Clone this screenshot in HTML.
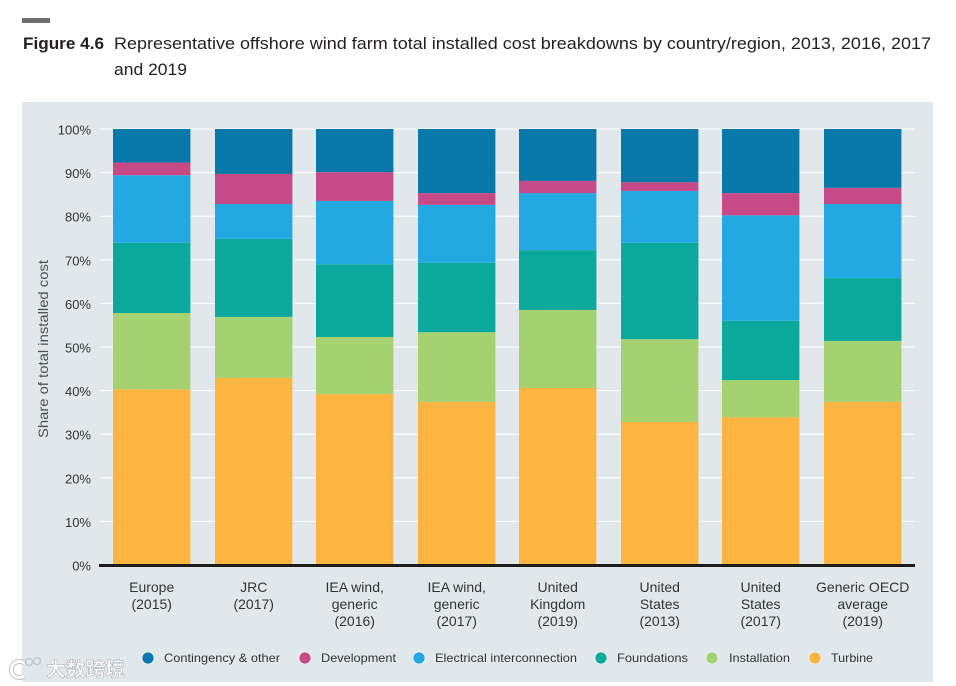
<!DOCTYPE html>
<html lang="en">
<head>
<meta charset="utf-8">
<title>Figure 4.6 Offshore wind farm cost breakdowns</title>
<style>
html,body{margin:0;padding:0;background:#fff;}
body{width:956px;height:686px;overflow:hidden;}
svg{display:block;font-family:"Liberation Sans","Noto Sans CJK SC",sans-serif;}
</style>
</head>
<body>
<svg id="chart" xmlns="http://www.w3.org/2000/svg" width="956" height="686" viewBox="0 0 956 686">
  <rect x="22" y="18" width="28" height="5" fill="#6d6e71"/>
  <text x="23" y="49" font-size="16.5" font-weight="700" fill="#231f20" textLength="81" lengthAdjust="spacingAndGlyphs">Figure 4.6</text>
  <text x="114" y="49" font-size="17" fill="#231f20" textLength="817" lengthAdjust="spacingAndGlyphs">Representative offshore wind farm total installed cost breakdowns by country/region, 2013, 2016, 2017</text>
  <text x="114" y="75" font-size="17" fill="#231f20" textLength="73" lengthAdjust="spacingAndGlyphs">and 2019</text>
  <rect x="22" y="102" width="911" height="580" fill="#e1e8ec"/>
  <text transform="translate(48 349) rotate(-90)" text-anchor="middle" font-size="14" fill="#4d4d4f" textLength="178" lengthAdjust="spacingAndGlyphs">Share of total installed cost</text>
  <g id="grid"></g>
  <g id="bars"></g>
  <rect x="99" y="564" width="816" height="3" fill="#1d1a18"/>
  <g id="yticks"></g>
  <g id="xlabels"></g>
  <g id="legend"></g>
  <g>
    <path d="M24 663 A8 8 0 1 0 24 676" fill="none" stroke="#bfc3c5" stroke-width="5"/>
    <path d="M24 663 A8 8 0 1 0 24 676" fill="none" stroke="#fff" stroke-width="3"/>
    <circle cx="29" cy="662" r="3.5" fill="none" stroke="#c4c8ca" stroke-width="1.5"/>
    <circle cx="37" cy="661" r="3.5" fill="none" stroke="#c4c8ca" stroke-width="1.5"/>
    <text x="46" y="676" font-size="19.5" font-weight="700" fill="#fff" stroke="#aeb3b6" stroke-width="0.6" textLength="79" lengthAdjust="spacingAndGlyphs">大数跨境</text>
  </g>
</svg>
<script>
const categories = [["Europe","(2015)"],["JRC","(2017)"],["IEA wind,","generic","(2016)"],["IEA wind,","generic","(2017)"],["United","Kingdom","(2019)"],["United","States","(2013)"],["United","States","(2017)"],["Generic OECD","average","(2019)"]];
const yTicks = [0,10,20,30,40,50,60,70,80,90,100];
const turbine = [40.3,42.9,39.2,37.4,40.6,32.8,33.9,37.4];
const installation = [17.5,14.0,13.1,16.0,17.9,19.0,8.5,14.0];
const foundations = [16.1,17.9,16.7,15.9,13.7,22.1,13.6,14.4];
const electrical = [15.5,8.0,14.5,13.3,13.1,11.9,24.2,17.0];
const development = [2.9,6.9,6.6,2.7,2.8,2.0,5.1,3.7];
const contingency = [7.7,10.3,9.9,14.7,11.9,12.2,14.7,13.5];
const seriesNames = ["Turbine","Installation","Foundations","Electrical interconnection","Development","Contingency & other"];
const legendOrder = ["Contingency & other","Development","Electrical interconnection","Foundations","Installation","Turbine"];

const seriesValues = [turbine,installation,foundations,electrical,development,contingency];
const colors = {"Turbine":"#fdb441","Installation":"#a5d170","Foundations":"#0ba99c","Electrical interconnection":"#23a9e1","Development":"#c64a86","Contingency & other":"#0878aa"};
const legendLayout = {"Contingency & other":[148,164,116],"Development":[305,321,75],"Electrical interconnection":[419,435,142],"Foundations":[601,617,71],"Installation":[712,729,61],"Turbine":[815,831,42]};
const NS = "http://www.w3.org/2000/svg";
const yScale = v => 565 - v * 4.36;
const xScale = i => Math.round(113 + i * 101.5);
const barWidth = 77.4;
const slug = s => s.toLowerCase().replace(/[^a-z0-9]+/g, "-").replace(/^-|-$/g, "");
function make(tag, attrs, parent, text) {
  const el = document.createElementNS(NS, tag);
  for (const k in attrs) el.setAttribute(k, attrs[k]);
  if (text !== undefined) el.textContent = text;
  parent.appendChild(el);
  return el;
}
const grid = document.getElementById("grid");
const yticksG = document.getElementById("yticks");
yTicks.forEach(t => {
  if (t > 0) {
    const line = make("line", {x1:100, x2:915, y1:yScale(t), y2:yScale(t), stroke:"#fff", "stroke-width":1}, grid);
    
    
  }
  const label = make("text", {x:91, y:yScale(t)+5.5, "text-anchor":"end", "font-size":13, fill:"#333"}, yticksG, t + "%");
  
  
});
const barsG = document.getElementById("bars");
categories.forEach((cat, i) => {
  let cum = 0;
  seriesValues.forEach((vals, s) => {
    const top = cum + vals[i];
    const r = make("rect", {x:xScale(i), y:yScale(top), width:barWidth, height:yScale(cum)-yScale(top), fill:colors[seriesNames[s]]}, barsG);
    
    
    cum = top;
  });
});
const xG = document.getElementById("xlabels");
categories.forEach((cat, i) => {
  const t = make("text", {"text-anchor":"middle", "font-size":14, fill:"#333"}, xG);
  
  
  cat.forEach((ln, j) => {
    make("tspan", {x:xScale(i)+barWidth/2, y:592+j*17}, t, ln);
  });
});
const legendG = document.getElementById("legend");
legendOrder.forEach(name => {
  const pos = legendLayout[name];
  const g = make("g", {}, legendG);
  
  
  const c = make("circle", {cx:pos[0], cy:658, r:6, fill:colors[name], stroke:"#f2f5f6", "stroke-width":0.8}, g);
  
  
  const t = make("text", {x:pos[1], y:662, "font-size":12, fill:"#333", textLength:pos[2], lengthAdjust:"spacingAndGlyphs"}, g, name);
  
  
});
</script>
</body>
</html>
